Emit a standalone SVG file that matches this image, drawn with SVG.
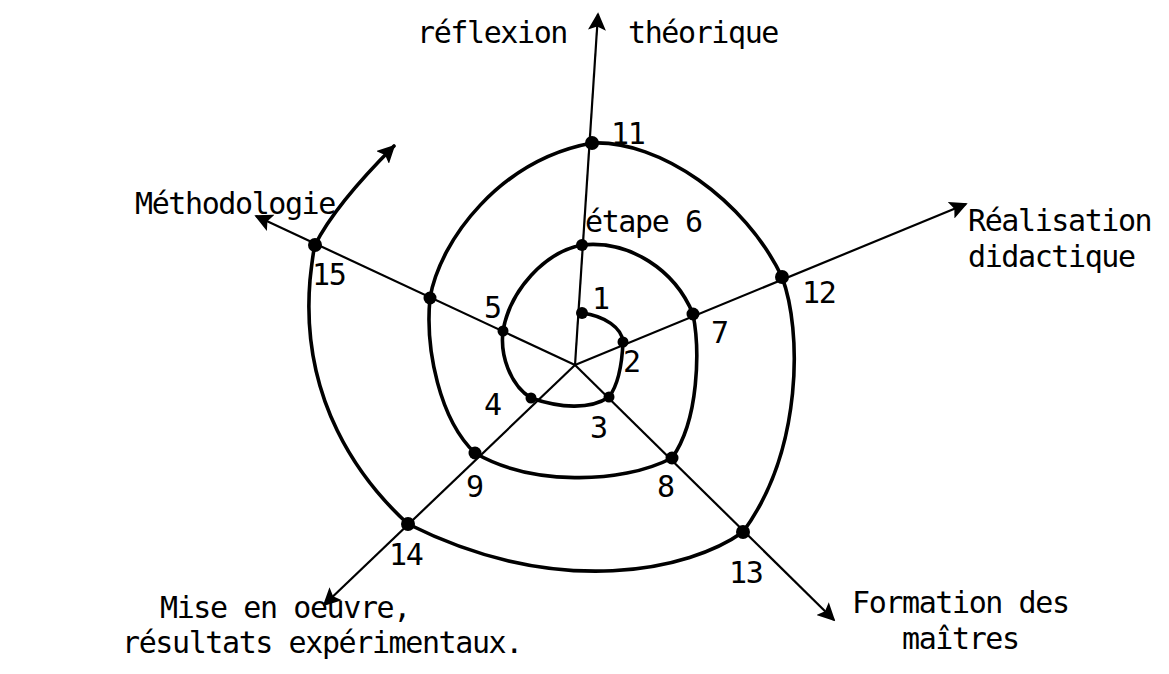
<svg xmlns="http://www.w3.org/2000/svg" width="1169" height="674" viewBox="0 0 1169 674">
<style>
.t{font-family:"DejaVu Sans Mono","Liberation Mono",monospace;font-size:30px;letter-spacing:-1.4px;fill:#000}
.ax{stroke:#000;stroke-width:2.2;fill:none}
.sp{stroke:#000;stroke-width:3.6;fill:none;stroke-linecap:round;stroke-linejoin:round}
.d{fill:#000}
</style>
<defs>
<marker id="ah2" viewBox="0 0 10 10" refX="9" refY="5" markerWidth="18" markerHeight="18" markerUnits="userSpaceOnUse" orient="auto">
<path d="M0,0 L10,5 L0,10 L2,5 Z" fill="#000"/>
</marker>
</defs>
<g id="connectors">
<line class="ax" x1="575" y1="365" x2="598" y2="14" marker-end="url(#ah2)"/>
<line class="ax" x1="575" y1="365" x2="966" y2="204" marker-end="url(#ah2)"/>
<line class="ax" x1="575" y1="365" x2="834" y2="620" marker-end="url(#ah2)"/>
<line class="ax" x1="575" y1="365" x2="324" y2="605" marker-end="url(#ah2)"/>
<line class="ax" x1="575" y1="365" x2="256" y2="216" marker-end="url(#ah2)"/>
<path class="sp" d="M582,313 C605,316 622,328 623,342 C622,365 618,385 609,397 C590,410 560,408 531,398 C510,385 500,355 503,331 C510,290 545,252 582,245 C630,240 675,270 693,314 C700,350 699,420 672,458 C620,485 530,485 475,453 C440,420 425,350 430,298 C440,240 500,160 592,143 C660,140 745,200 782,277 C802,330 803,450 743,532 C690,570 560,600 408,524 C360,480 300,400 310,280 C312,262 313,252 315,245 C330,215 360,180 394,146" marker-end="url(#ah2)"/>
</g>
<g id="dots">
<circle class="d" cx="582" cy="313" r="6"/>
<circle class="d" cx="623" cy="342" r="5.5"/>
<circle class="d" cx="609" cy="397" r="5.5"/>
<circle class="d" cx="531" cy="398" r="5.5"/>
<circle class="d" cx="503" cy="331" r="5.5"/>
<circle class="d" cx="582" cy="245" r="6"/>
<circle class="d" cx="693" cy="314" r="6.5"/>
<circle class="d" cx="672" cy="458" r="6.5"/>
<circle class="d" cx="475" cy="453" r="6.5"/>
<circle class="d" cx="430" cy="298" r="6.5"/>
<circle class="d" cx="592" cy="143" r="7"/>
<circle class="d" cx="782" cy="277" r="7"/>
<circle class="d" cx="743" cy="532" r="7"/>
<circle class="d" cx="408" cy="524" r="7"/>
<circle class="d" cx="315" cy="245" r="7"/>
</g>
<g id="axis-labels">
<text class="t" x="417" y="43">réflexion</text>
<text class="t" x="628" y="43">théorique</text>
<text class="t" x="968" y="231">Réalisation</text>
<text class="t" x="968" y="267">didactique</text>
<text class="t" x="852" y="613">Formation des</text>
<text class="t" x="902" y="649">maîtres</text>
<text class="t" x="160" y="618">Mise en oeuvre,</text>
<text class="t" x="122" y="653">résultats expérimentaux.</text>
<text class="t" x="135" y="214">Méthodologie</text>
</g>
<g id="step-labels">
<text class="t" x="592" y="309">1</text>
<text class="t" x="623" y="372">2</text>
<text class="t" x="590" y="438">3</text>
<text class="t" x="484" y="415">4</text>
<text class="t" x="484" y="318">5</text>
<text class="t" x="585" y="232">étape 6</text>
<text class="t" x="711" y="343">7</text>
<text class="t" x="657" y="497">8</text>
<text class="t" x="466" y="497">9</text>
<text class="t" x="611" y="144">11</text>
<text class="t" x="802" y="303">12</text>
<text class="t" x="729" y="583">13</text>
<text class="t" x="389" y="565">14</text>
<text class="t" x="312" y="285">15</text>
</g>
</svg>
